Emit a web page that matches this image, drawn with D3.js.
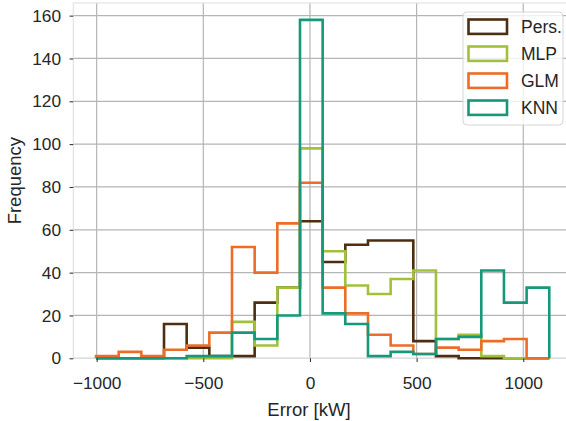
<!DOCTYPE html>
<html>
<head>
<meta charset="utf-8">
<script src="https://cdn.jsdelivr.net/npm/d3@7"></script>
<style>
  body { margin: 0; background: #fff; }
  svg { display: block; font-family: "Liberation Sans", Arial, sans-serif; }
  .axis path { display: none; }
  .axis line { stroke: #262626; stroke-width: 1; }
  .axis text { font-size: 17.3px; fill: #262626; }
</style>
</head>
<body>
<div id="chart"></div>
<script>
// shared bin edges (20 bins)
const binStart = -1003, binWidth = 106.25, nBins = 20;

// series (counts per bin)
const seriesNames = ["Pers.", "MLP", "GLM", "KNN"];
const seriesColors = ["#4d2e12", "#a2c13b", "#ec6d28", "#15997a"];
const persCounts = [0, 0, 0, 16, 5, 1, 1, 26, 33, 64, 45, 53, 55, 55, 8, 1, 0, 0, 0, 0];
const mlpCounts  = [0, 0, 0, 0, 0, 0, 17, 6, 33, 98, 50, 34, 30, 37, 41, 9, 11, 1, 0, 0];
const glmCounts  = [1, 3, 1, 4, 6, 12, 52, 40, 63, 82, 33, 21, 11, 6, 2, 5, 4, 8, 9, 0];
const knnCounts  = [0, 0, 0, 0, 1, 1, 12, 9, 20, 158, 21, 16, 1, 3, 2, 9, 10, 41, 26, 33];

const xTicks = [-1000, -500, 0, 500, 1000];
const yTicks = [0, 20, 40, 60, 80, 100, 120, 140, 160];

//SVG setup
const W = 566, H = 421;
const margin = {top: 3, right: -6, bottom: 62.7, left: 73.3},
      width = W - margin.left - margin.right,
      height = H - margin.top - margin.bottom;

const x = d3.scaleLinear()
    .domain([-1109.5, 1228.5])
    .range([0, width]);

const y = d3.scaleLinear()
    .domain([0, 165.9])
    .range([height, 0]);

const root = d3.select("#chart")
  .append("svg")
    .attr("width", W)
    .attr("height", H);

const svg = root.append("g")
    .attr("transform", `translate(${margin.left}, ${margin.top})`);

//grid
svg.append("g")
  .selectAll("line")
  .data(xTicks)
  .enter().append("line")
    .attr("x1", d => x(d)).attr("x2", d => x(d))
    .attr("y1", 0).attr("y2", height)
    .attr("stroke", "#b5b5b5").attr("stroke-width", 1.2);

svg.append("g")
  .selectAll("line")
  .data(yTicks)
  .enter().append("line")
    .attr("x1", 0).attr("x2", width)
    .attr("y1", d => y(d)).attr("y2", d => y(d))
    .attr("stroke", "#b5b5b5").attr("stroke-width", 1.2);

//frame
svg.append("rect")
    .attr("x", 0).attr("y", 0)
    .attr("width", width).attr("height", height)
    .attr("fill", "none")
    .attr("stroke", "#e3e3e3")
    .attr("stroke-width", 1.2);

//step histograms
const allCounts = [persCounts, mlpCounts, glmCounts, knnCounts];
const edges = d3.range(nBins + 1).map(i => binStart + i * binWidth);

function stepPoints(counts) {
  const pts = [[edges[0], 0]];
  counts.forEach((c, i) => {
    pts.push([edges[i], c]);
    pts.push([edges[i + 1], c]);
  });
  pts.push([edges[nBins], 0]);
  return pts;
}

const line = d3.line()
    .x(d => x(d[0]))
    .y(d => y(d[1]));

svg.append("g")
  .selectAll("path")
  .data(allCounts)
  .enter().append("path")
    .attr("d", d => line(stepPoints(d)))
    .attr("fill", "none")
    .attr("stroke", (d, i) => seriesColors[i])
    .attr("stroke-width", 2.6)
    .attr("stroke-linejoin", "miter");

//axes
svg.append("g")
    .attr("class", "axis")
    .attr("transform", `translate(0, ${height})`)
    .call(d3.axisBottom(x).tickValues(xTicks).tickFormat(d3.format("d"))
      .tickSize(3.7).tickPadding(15));

svg.append("g")
    .attr("class", "axis")
    .call(d3.axisLeft(y).tickValues(yTicks).tickSize(3.7).tickPadding(8.6));

//axis labels
root.append("text")
    .attr("x", margin.left + x(0) - 1)
    .attr("y", 416)
    .attr("text-anchor", "middle")
    .attr("font-size", 18.5)
    .attr("fill", "#262626")
    .text("Error [kW]");

root.append("text")
    .attr("transform", `translate(21, ${margin.top + height / 2}) rotate(-90)`)
    .attr("text-anchor", "middle")
    .attr("font-size", 18.5)
    .attr("fill", "#262626")
    .text("Frequency");

//legend
const legend = root.append("g")
    .attr("transform", "translate(463, 12)");

legend.append("rect")
    .attr("width", 100).attr("height", 113)
    .attr("rx", 4)
    .attr("fill", "#fff").attr("fill-opacity", 0.8)
    .attr("stroke", "#d6d6d6").attr("stroke-width", 1);

const items = legend.selectAll(".item")
  .data(seriesNames)
  .enter().append("g")
    .attr("class", "item")
    .attr("transform", (d, i) => `translate(0, ${14.7 + i * 27})`);

items.append("rect")
    .attr("x", 5.5).attr("y", -7.2)
    .attr("width", 38.5).attr("height", 14.4)
    .attr("fill", "none")
    .attr("stroke", (d, i) => seriesColors[i])
    .attr("stroke-width", 2.6);

items.append("text")
    .attr("x", 58)
    .attr("y", 6.2)
    .attr("font-size", 17.5)
    .attr("fill", "#262626")
    .text(d => d);
</script>
</body>
</html>
